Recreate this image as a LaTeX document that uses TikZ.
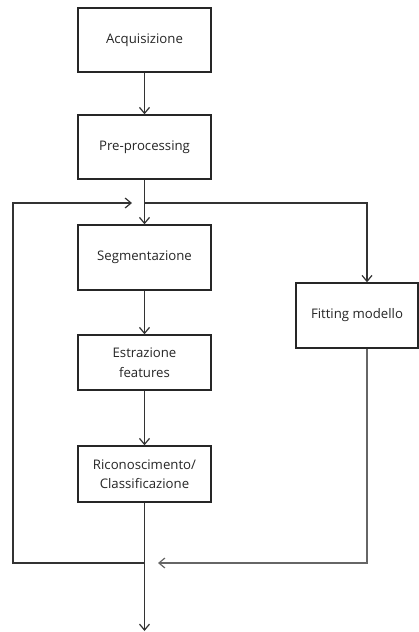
\documentclass[tikz,border=0pt]{standalone}
\usepackage{fontspec}
\setmainfont{Open Sans}
\usetikzlibrary{arrows.meta}
\begin{document}
\begin{tikzpicture}[x=1pt,y=-1pt,
  blk/.style={draw=black!85,line width=1.4pt,fill=white,align=center,inner sep=0pt,font=\fontsize{13.2}{19.5}\selectfont,text=black!85},
  conn/.style={draw=black!80,line width=1.4pt},
  arr/.style={conn,-{Straight Barb[length=6pt,width=10pt,line width=1.2pt]}},
  garr/.style={draw=black!60,line width=1.5pt,-{Straight Barb[length=6pt,width=10pt,line width=1.2pt]}}]
\useasboundingbox (0,0) rectangle (419,632);
\node[blk,minimum width=133pt,minimum height=64pt] (acq) at (144.5,40) {Acquisizione};
\node[blk,minimum width=133pt,minimum height=64pt] (pre) at (144.5,147) {Pre-processing};
\node[blk,minimum width=133pt,minimum height=65pt] (seg) at (144.5,257.5) {Segmentazione};
\node[blk,minimum width=133pt,minimum height=55pt] (est) at (144.5,362.5) {Estrazione\\features};
\node[blk,minimum width=122pt,minimum height=65pt] (fit) at (357,315.5) {Fitting modello};
\node[blk,minimum width=133pt,minimum height=56pt] (ric) at (144.5,474) {Riconoscimento/\\Classificazione};
\coordinate (j1) at (144.5,203);
\coordinate (lt) at (13,203);
\coordinate (ltip) at (132,203);
\coordinate (rt) at (367,203);
\coordinate (j2) at (144.5,563);
\coordinate (lb) at (13,563);
\coordinate (rb) at (367,563);
\coordinate (rtip) at (158,563);
\coordinate (end) at (144.5,631);
\draw[arr] (acq) -- (pre);
\draw[conn] (pre) -- (j1);
\draw[arr] (j1) -- (seg);
\draw[arr] (seg) -- (est);
\draw[arr] (est) -- (ric);
\draw[conn] (ric) -- (j2);
\draw[arr] (j2) -- (end);
\draw[arr] (j2) -- (lb) -- (lt) -- (ltip);
\draw[arr] (j1) -- (rt) -- (fit.north -| rt);
\draw[garr] (fit.south -| rb) -- (rb) -- (rtip);
\end{tikzpicture}
\end{document}
